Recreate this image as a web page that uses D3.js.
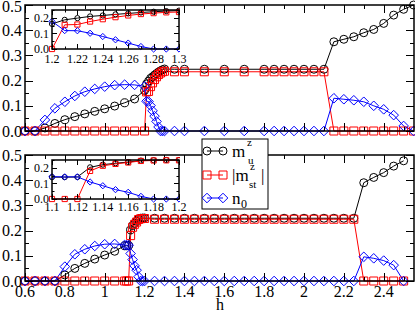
<!DOCTYPE html>
<html><head><meta charset="utf-8">
<script src="https://cdn.jsdelivr.net/npm/d3@7"></script>
<style>body{margin:0;background:#fff}svg{display:block}text{font-family:"Liberation Serif","DejaVu Serif",serif;fill:#000}</style>
</head><body><svg id="c" width="415" height="312"></svg>
<script>
// ---------- data ----------
const hTop = [0.6,0.65,0.7,0.75,0.8,0.85,0.9,0.95,1.0,1.05,1.1,1.15,
  1.2,1.21,1.22,1.23,1.24,1.25,1.26,1.27,1.28,1.29,1.3,
  1.35,1.4,1.5,1.6,1.7,1.8,1.85,1.9,1.95,2.0,2.05,2.1,
  2.15,2.2,2.25,2.3,2.35,2.4,2.45,2.5,2.55];
const muTop = [0,0,0.012,0.03,0.045,0.057,0.068,0.078,0.088,0.099,0.112,0.127,
  0.161,0.187,0.198,0.209,0.215,0.222,0.228,0.234,0.239,0.243,0.246,
  0.245,0.245,0.245,0.245,0.245,0.245,0.245,0.245,0.245,0.245,0.245,0.245,
  0.354,0.364,0.374,0.39,0.403,0.427,0.46,0.483,0.5];
const mstTop = [0,0,0,0,0,0,0,0,0,0,0,0,
  0,0.155,0.157,0.176,0.191,0.204,0.215,0.224,0.23,0.235,0.237,
  0.235,0.235,0.235,0.235,0.235,0.235,0.235,0.235,0.235,0.235,0.235,0.235,
  0,0,0,0,0,0,0,0,0];
const n0Top = [0,0,0.044,0.09,0.116,0.139,0.156,0.167,0.176,0.182,0.184,0.183,
  0.177,0.118,0.117,0.101,0.08,0.059,0.038,0.016,0,0,0,
  0,0,0,0,0,0,0,0,0,0,0,0,
  0.13,0.126,0.122,0.116,0.1,0.086,0.063,0.02,0];

const hBot = [0.6,0.65,0.7,0.75,0.8,0.85,0.9,0.95,1.0,1.05,
  1.1,1.11,1.12,1.13,1.14,1.15,1.16,1.17,1.18,1.19,1.2,
  1.25,1.3,1.35,1.4,1.45,1.5,1.55,1.6,1.65,1.7,1.75,1.8,1.85,1.9,1.95,2.0,2.05,2.1,2.15,2.2,2.25,
  2.3,2.35,2.4,2.45,2.5];
const muBot = [0,0,0,0,0.024,0.05,0.07,0.087,0.103,0.118,
  0.14,0.14,0.141,0.203,0.22,0.229,0.237,0.246,0.249,0.25,0.25,
  0.249,0.249,0.249,0.249,0.249,0.249,0.249,0.249,0.249,0.249,0.249,0.249,0.249,0.249,0.249,0.249,0.249,0.249,0.249,0.249,0.249,
  0.39,0.411,0.43,0.456,0.477];
const mstBot = [0,0,0,0,0,0,0,0,0,0,
  0,0,0,0.18,0.213,0.225,0.234,0.244,0.247,0.248,0.248,
  0.245,0.245,0.245,0.245,0.245,0.245,0.245,0.245,0.245,0.245,0.245,0.245,0.245,0.245,0.245,0.245,0.245,0.245,0.245,0.245,0.245,
  0,0,0,0,0];
const n0Bot = [0,0,0,0,0.057,0.106,0.126,0.139,0.146,0.147,
  0.143,0.142,0.142,0.109,0.085,0.06,0.043,0.017,0,0,0,
  0,0,0,0,0,0,0,0,0,0,0,0,0,0,0,0,0,0,0,0,0,
  0.096,0.09,0.081,0.063,0];

const xTicks = [0.6,0.8,1,1.2,1.4,1.6,1.8,2,2.2,2.4];
const yTicks = [0,0.1,0.2,0.3,0.4,0.5];
const in1XTicks = [1.2,1.22,1.24,1.26,1.28,1.3];
const in2XTicks = [1.1,1.12,1.14,1.16,1.18,1.2];
const inYTicks = [0,0.1,0.2];
const legendLabels = ["m","|m","n"];

// ---------- drawing ----------
const svg = d3.select("#c");
const colors = ["#000000","#ff0000","#0000ff"];
const fmtY = d3.format(".1f");
const fmtX = v => (Math.round(v*100)/100).toString();

function symbolPath(kind, x, y, s){
  if(kind===0) return `M${x+s},${y}A${s},${s} 0 1,1 ${x-s},${y}A${s},${s} 0 1,1 ${x+s},${y}Z`;
  if(kind===1) return `M${x-s},${y-s}H${x+s}V${y+s}H${x-s}Z`;
  const d=s*1.2; return `M${x},${y-d}L${x+d},${y}L${x},${y+d}L${x-d},${y}Z`;
}

let clipId=0;
function panel(opt){
  const {x0,x1,y0,y1,xd,yd,series,h,xt,xminor,yt,yminor,xlabels,sym,tickLen,fs,fill,xlabOff} = opt;
  const g = svg.append("g");
  const x = d3.scaleLinear().domain(xd).range([x0,x1]);
  const y = d3.scaleLinear().domain(yd).range([y1,y0]);
  if(fill) g.append("rect").attr("x",x0).attr("y",y0).attr("width",x1-x0).attr("height",y1-y0).attr("fill","#fff");
  const id="cl"+(clipId++);
  g.append("clipPath").attr("id",id).append("rect").attr("x",x0-6).attr("y",y0-6).attr("width",x1-x0+7).attr("height",y1-y0+12);
  const dg = g.append("g").attr("clip-path",`url(#${id})`);
  series.forEach((vals,k)=>{
    const pts = h.map((hv,i)=>[hv,vals[i]]).filter(p=>p[0]>=xd[0]-1e-9&&p[0]<=xd[1]+1e-9);
    dg.append("path").attr("d",d3.line().x(p=>x(p[0])).y(p=>y(p[1]))(pts))
      .attr("fill","none").attr("stroke",colors[k]).attr("stroke-width",1);
  });
  series.forEach((vals,k)=>{
    const pts = h.map((hv,i)=>[hv,vals[i]]).filter(p=>p[0]>=xd[0]-1e-9&&p[0]<=xd[1]+1e-9);
    dg.selectAll(null).data(pts).enter().append("path")
      .attr("d",p=>symbolPath(k,x(p[0]),y(p[1]),sym)).attr("fill","none")
      .attr("stroke",colors[k]).attr("stroke-width",1);
  });
  const tg = g.append("g").attr("stroke","#000").attr("stroke-width",1);
  const allX = [...xt.map(v=>[v,tickLen]),...xminor.map(v=>[v,tickLen/2])];
  allX.forEach(([v,l])=>{
    const px = Math.round(x(v))+0.5;
    tg.append("line").attr("x1",px).attr("x2",px).attr("y1",y1).attr("y2",y1-l);
    tg.append("line").attr("x1",px).attr("x2",px).attr("y1",y0).attr("y2",y0+l);
  });
  const allY = [...yt.map(v=>[v,tickLen]),...yminor.map(v=>[v,tickLen/2])];
  allY.forEach(([v,l])=>{
    const py = Math.round(y(v))+0.5;
    tg.append("line").attr("y1",py).attr("y2",py).attr("x1",x0).attr("x2",x0+l);
    tg.append("line").attr("y1",py).attr("y2",py).attr("x1",x1).attr("x2",x1-l);
  });
  g.append("rect").attr("x",x0).attr("y",y0).attr("width",x1-x0).attr("height",y1-y0)
    .attr("fill","none").attr("stroke","#000").attr("stroke-width",1.5);
  yt.forEach(v=>{
    g.append("text").attr("x",x0-3).attr("y",Math.max(y(v)+fs*0.35, fs*0.72)).attr("text-anchor","end")
      .attr("font-size",fs).text(fmtY(v));
  });
  if(xlabels){
    xt.forEach(v=>{
      g.append("text").attr("x",x(v)).attr("y",y1+xlabOff).attr("text-anchor","middle")
        .attr("font-size",fs).text(fmtX(v));
    });
  }
  return {x,y};
}

const mainXMinor = d3.range(0.7,2.55,0.2).map(v=>Math.round(v*10)/10);
const mainYMinor = [0.05,0.15,0.25,0.35,0.45];

panel({x0:25,x1:414,y0:5,y1:131,xd:[0.6,2.552],yd:[0,0.5],series:[muTop,mstTop,n0Top],h:hTop,
  xt:xTicks,xminor:mainXMinor,yt:yTicks,yminor:mainYMinor,xlabels:false,sym:4,tickLen:8,fs:16});
panel({x0:25,x1:414,y0:155,y1:281,xd:[0.6,2.552],yd:[0,0.5],series:[muBot,mstBot,n0Bot],h:hBot,
  xt:xTicks,xminor:mainXMinor,yt:yTicks,yminor:mainYMinor,xlabels:true,sym:4,tickLen:8,fs:16,xlabOff:16});

panel({x0:52,x1:179,y0:10,y1:49,xd:[1.2,1.3],yd:[0,0.25],series:[muTop,mstTop,n0Top],h:hTop,
  xt:in1XTicks,xminor:[1.21,1.23,1.25,1.27,1.29],yt:inYTicks,yminor:[0.05,0.15,0.25],xlabels:true,
  sym:2.6,tickLen:5,fs:12,fill:true,xlabOff:14});
panel({x0:52,x1:179,y0:160,y1:199,xd:[1.1,1.2],yd:[0,0.25],series:[muBot,mstBot,n0Bot],h:hBot,
  xt:in2XTicks,xminor:[1.11,1.13,1.15,1.17,1.19],yt:inYTicks,yminor:[0.05,0.15,0.25],xlabels:true,
  sym:2.6,tickLen:5,fs:12,fill:true,xlabOff:12});

svg.append("text").attr("x",220).attr("y",310).attr("text-anchor","middle").attr("font-size",16).text("h");

// legend
const lg = svg.append("g");
lg.append("rect").attr("x",202).attr("y",139).attr("width",66).attr("height",70)
  .attr("fill","#fff").attr("stroke","#000").attr("stroke-width",1);
const ly = [151,175,198];
ly.forEach((yy,k)=>{
  lg.append("line").attr("x1",207).attr("x2",223).attr("y1",yy).attr("y2",yy).attr("stroke",colors[k]);
  [207,223].forEach(xx=>lg.append("path").attr("d",symbolPath(k,xx,yy,4)).attr("fill","none").attr("stroke",colors[k]));
});
lg.append("text").attr("x",232).attr("y",157).attr("font-size",17).text(legendLabels[0]);
lg.append("text").attr("x",247).attr("y",146).attr("font-size",11).text("z");
lg.append("text").attr("x",248).attr("y",164).attr("font-size",11).text("u");
lg.append("text").attr("x",232).attr("y",181).attr("font-size",17).text(legendLabels[1]);
lg.append("text").attr("x",250).attr("y",170).attr("font-size",11).text("z");
lg.append("text").attr("x",249).attr("y",188).attr("font-size",11).text("st");
lg.append("text").attr("x",261).attr("y",181).attr("font-size",17).text("|");
lg.append("text").attr("x",232).attr("y",204).attr("font-size",17).text(legendLabels[2]);
lg.append("text").attr("x",241).attr("y",208).attr("font-size",12).text("0");
</script></body></html>
